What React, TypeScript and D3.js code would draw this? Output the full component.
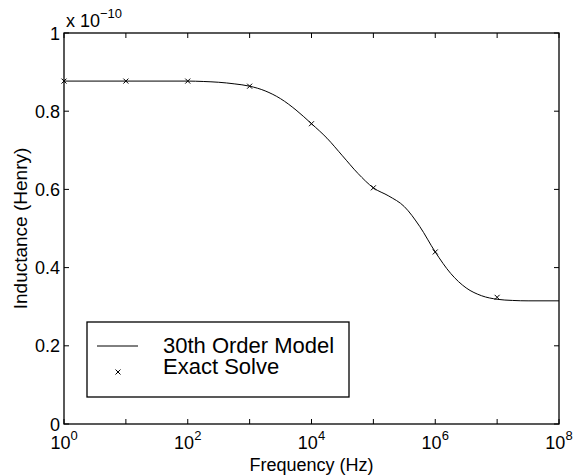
import React, { useRef, useEffect } from 'react';
import * as d3 from 'd3';

// 30th order model curve (log10 frequency, inductance in units of 1e-10 H)
const modelLogFreq = [0, 1, 2, 2.25, 2.5, 2.75, 3, 3.25, 3.5, 3.75, 4, 4.25, 4.5, 4.75, 5, 5.25, 5.5, 5.75, 6, 6.25, 6.5, 6.75, 7, 7.25, 7.5, 8];
const modelValues = [0.877, 0.877, 0.877, 0.876, 0.874, 0.870, 0.864, 0.852, 0.832, 0.803, 0.768, 0.731, 0.686, 0.641, 0.604, 0.583, 0.556, 0.505, 0.440, 0.385, 0.348, 0.328, 0.319, 0.316, 0.315, 0.315];

// exact solve points
const exactLogFreq = [0, 1, 2, 3, 4, 5, 6, 7];
const exactValues = [0.877, 0.877, 0.877, 0.864, 0.768, 0.604, 0.440, 0.324];

const xTickExponents = [0, 2, 4, 6, 8];
const xMinorExponents = [0, 1, 2, 3, 4, 5, 6, 7, 8];
const yTicks = [0, 0.2, 0.4, 0.6, 0.8, 1];
const legendLabels = ['30th Order Model', 'Exact Solve'];

const App = () => {
  const svgRef = useRef<SVGSVGElement>(null);

  useEffect(() => {
    const svg = d3.select(svgRef.current);
    svg.selectAll('*').remove();

    const margin = { top: 33, right: 23, bottom: 52, left: 64 };
    const width = 582;
    const height = 476;
    const w = width - margin.left - margin.right;
    const h = height - margin.top - margin.bottom;
    const font = 'Arial, "Liberation Sans", Helvetica, sans-serif';

    const x = d3.scaleLog().domain([1, 1e8]).range([0, w]);
    const y = d3.scaleLinear().domain([0, 1]).range([h, 0]);

    const g = svg.append('g').attr('transform', `translate(${margin.left},${margin.top})`);

    // ticks (inward, both sides)
    const tl = 5;
    xMinorExponents.forEach(e => {
      const px = x(Math.pow(10, e));
      g.append('line').attr('x1', px).attr('x2', px).attr('y1', h).attr('y2', h - tl).attr('stroke', '#000');
      g.append('line').attr('x1', px).attr('x2', px).attr('y1', 0).attr('y2', tl).attr('stroke', '#000');
    });
    yTicks.forEach(t => {
      const py = y(t);
      g.append('line').attr('x1', 0).attr('x2', tl).attr('y1', py).attr('y2', py).attr('stroke', '#000');
      g.append('line').attr('x1', w).attr('x2', w - tl).attr('y1', py).attr('y2', py).attr('stroke', '#000');
      g.append('text')
        .attr('x', -4).attr('y', py + 6.5)
        .attr('text-anchor', 'end')
        .style('font-family', font).style('font-size', '18px')
        .text(d3.format('')(t));
    });

    // x tick labels 10^n
    xTickExponents.forEach(e => {
      const px = x(Math.pow(10, e));
      const t = g.append('text')
        .attr('x', px).attr('y', h + 25)
        .attr('text-anchor', 'middle')
        .style('font-family', font).style('font-size', '18px');
      t.append('tspan').text('10');
      t.append('tspan').attr('dy', -9).style('font-size', '13px').text(String(e));
    });

    // axis box
    g.append('rect').attr('width', w).attr('height', h)
      .attr('fill', 'none').attr('stroke', '#000').attr('stroke-width', 1.3);

    // exponent label
    const ex = g.append('text').attr('x', 2).attr('y', -6)
      .style('font-family', font).style('font-size', '18px');
    ex.append('tspan').text('x 10');
    ex.append('tspan').attr('dy', -9).style('font-size', '13px').text('\u221210');

    // model line
    const line = d3.line<number>()
      .x((d, i) => x(Math.pow(10, modelLogFreq[i])))
      .y(d => y(d))
      .curve(d3.curveMonotoneX);
    g.append('path').datum(modelValues)
      .attr('d', line)
      .attr('fill', 'none').attr('stroke', '#000').attr('stroke-width', 1);

    // exact markers
    const m = 2.5;
    const cross = (px: number, py: number) => `M${px - m},${py - m}L${px + m},${py + m}M${px - m},${py + m}L${px + m},${py - m}`;
    g.selectAll('.mk').data(exactValues).enter().append('path')
      .attr('class', 'mk')
      .attr('d', (d, i) => cross(x(Math.pow(10, exactLogFreq[i])), y(d)))
      .attr('stroke', '#000').attr('stroke-width', 1).attr('fill', 'none');

    // legend
    const lg = svg.append('g').attr('transform', 'translate(87,322)');
    lg.append('rect').attr('width', 262).attr('height', 75)
      .attr('fill', '#fff').attr('stroke', '#000').attr('stroke-width', 1.3);
    lg.append('line').attr('x1', 10).attr('x2', 51).attr('y1', 24).attr('y2', 24).attr('stroke', '#000');
    lg.append('path').attr('d', cross(31, 50)).attr('stroke', '#000').attr('fill', 'none');
    legendLabels.forEach((l, i) => {
      lg.append('text').attr('x', 76).attr('y', 31 + i * 21)
        .style('font-family', font).style('font-size', '22px')
        .text(l);
    });

    // axis labels
    svg.append('text')
      .attr('x', margin.left + w / 2).attr('y', 471)
      .attr('text-anchor', 'middle')
      .style('font-family', font).style('font-size', '18px')
      .text('Frequency (Hz)');
    svg.append('text')
      .attr('transform', `translate(27,${margin.top + h / 2}) rotate(-90)`)
      .attr('text-anchor', 'middle')
      .style('font-family', font).style('font-size', '19px')
      .text('Inductance (Henry)');
  }, []);

  return (
    <svg ref={svgRef} width={582} height={476}
      style={{ position: 'absolute', left: 0, top: 0, background: '#fff' }} />
  );
};

export default App;
